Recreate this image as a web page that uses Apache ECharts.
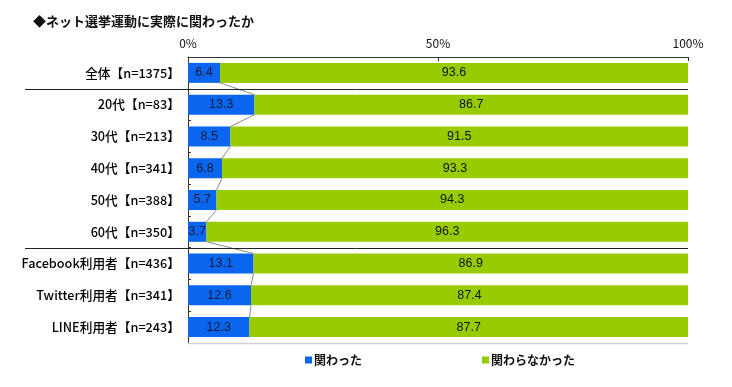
<!DOCTYPE html>
<html><head><meta charset="utf-8">
<script src="https://cdn.jsdelivr.net/npm/echarts@6/dist/echarts.min.js"></script>
<style>html,body{margin:0;padding:0;background:#fff}#c{width:732px;height:387px}</style>
</head><body><div id="c"></div>
<script>
const title = '◆ネット選挙運動に実際に関わったか';
const categories = ['全体【n=1375】','20代【n=83】','30代【n=213】','40代【n=341】','50代【n=388】','60代【n=350】','Facebook利用者【n=436】','Twitter利用者【n=341】','LINE利用者【n=243】'];
const involved = [6.4, 13.3, 8.5, 6.8, 5.7, 3.7, 13.1, 12.6, 12.3];
const notInvolved = [93.6, 86.7, 91.5, 93.3, 94.3, 96.3, 86.9, 87.4, 87.7];
const seriesNames = ['関わった', '関わらなかった'];
const xTicks = [0, 50, 100];
const separatorsAfter = [0, 5];

const BLUE = '#0b66ef', GREEN = '#99cc00';
const FONT = '"Noto Sans CJK JP", sans-serif';
const chart = echarts.init(document.getElementById('c'));
const halfBar = 10;

chart.setOption({
  animation: false,
  title: { text: title, left: 28, top: 10, textStyle: { fontSize: 13, fontWeight: 'bold', color: '#111', fontFamily: FONT } },
  grid: { left: 188, right: 44, top: 57, bottom: 44 },
  legend: {
    bottom: 16, left: 300, itemGap: 120, itemWidth: 7, itemHeight: 7, icon: 'rect',
    textStyle: { fontSize: 12, fontWeight: 'bold', color: '#111', fontFamily: FONT, padding: [0,0,0,-3] },
    data: seriesNames
  },
  xAxis: {
    type: 'value', position: 'top', min: 0, max: 100, interval: 50,
    axisLine: { show: true, lineStyle: { color: '#333' } },
    axisTick: { show: true, inside: true, length: 4, lineStyle: { color: '#333' } },
    splitLine: { show: false },
    axisLabel: { formatter: v => xTicks.includes(v) ? v + '%' : '', fontSize: 12, color: '#111', margin: 8, fontFamily: FONT }
  },
  yAxis: {
    type: 'category', inverse: true, data: categories,
    axisLine: { show: true, lineStyle: { color: '#333' } },
    axisTick: { show: true, inside: true, length: 3, lineStyle: { color: '#333' } },
    axisLabel: { fontSize: 12.7, color: '#000', margin: 8, fontFamily: FONT, fontWeight: 500 }
  },
  series: [
    { name: seriesNames[0], type: 'bar', stack: 's', data: involved, barWidth: 20,
      itemStyle: { color: BLUE },
      label: { show: true, position: 'inside', color: '#1a1a3a', fontSize: 12.5, fontFamily: 'Liberation Sans, sans-serif' } },
    { name: seriesNames[1], type: 'bar', stack: 's', data: notInvolved, barWidth: 20,
      itemStyle: { color: GREEN },
      label: { show: true, position: 'inside', color: '#111', fontSize: 12.5, fontFamily: 'Liberation Sans, sans-serif' } },
    { type: 'custom', silent: true, z: 5, clip: false,
      data: involved.slice(0, -1).map((v, i) => [v, i]),
      renderItem: (params, api) => {
        const i = params.dataIndex;
        const a = api.coord([involved[i], i]);
        const b = api.coord([involved[i + 1], i + 1]);
        return { type: 'line', shape: { x1: a[0], y1: a[1] + halfBar, x2: b[0], y2: b[1] - halfBar },
                 style: { stroke: '#8a8a8a', lineWidth: 1 } };
      } },
    { type: 'custom', silent: true, z: 6, clip: false,
      data: separatorsAfter.map(i => [0, i]),
      renderItem: (params, api) => {
        const i = separatorsAfter[params.dataIndex];
        const p = api.coord([0, i]);
        const e = api.coord([100, i]);
        const h = api.size([0, 1])[1];
        const y = Math.round(p[1] + h / 2) + 0.5;
        return { type: 'line', shape: { x1: 25, y1: y, x2: e[0], y2: y },
                 style: { stroke: '#222', lineWidth: 1 } };
      } },
    { type: 'custom', silent: true, z: 6, clip: false, data: [[100, 0]],
      renderItem: (params, api) => {
        const a = api.coord([0, categories.length - 1]);
        const b = api.coord([100, categories.length - 1]);
        const h = api.size([0, 1])[1];
        const y = Math.round(a[1] + h / 2) + 0.5;
        return { type: 'line', shape: { x1: a[0], y1: y, x2: b[0], y2: y }, style: { stroke: '#d0d0d8', lineWidth: 1.5 } };
      } }
  ]
});
</script></body></html>
